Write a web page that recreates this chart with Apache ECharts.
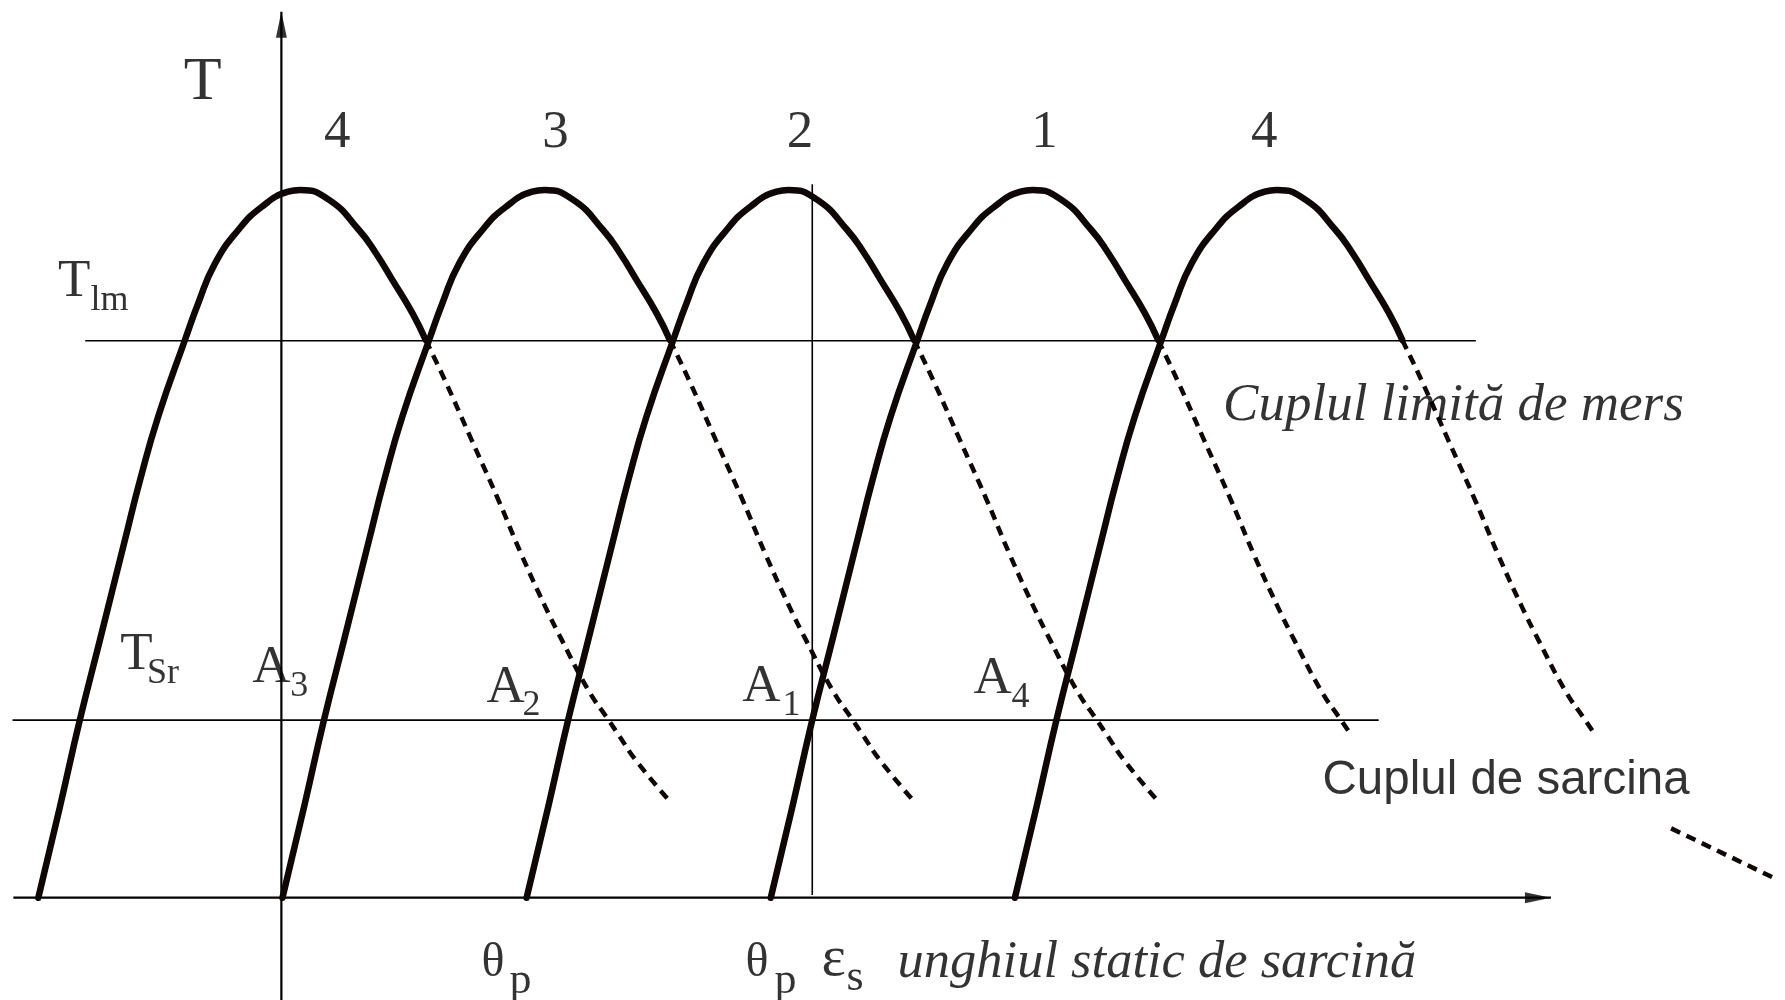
<!DOCTYPE html>
<html>
<head>
<meta charset="utf-8">
<title>Cuplul static - motor pas cu pas</title>
<script src="https://cdn.jsdelivr.net/npm/echarts@6/dist/echarts.min.js"></script>
<style>
  html, body { margin: 0; padding: 0; background: #fff; }
  #chart { width: 1785px; height: 1000px; }
</style>
</head>
<body>
<div id="chart"></div>
<script>
// phases in the order they are excited, and where each curve leaves the axis (el. deg)
const phaseNames = ['4', '3', '2', '1', '4']
const phaseStart = [-90, 0, 90, 180, 270]
const phaseLabelX = [20.8, 101.2, 191.4, 281.5, 362.5]

const torqueSolid = [
  [0.4, 0], [8.4, 0.129], [15.7, 0.251], [23.1, 0.364], [32.3, 0.505], [37.9, 0.59],
  [44.6, 0.68], [54.45, 0.788], [59.35, 0.84], [65.5, 0.896], [74.1, 0.9435],
  [82.7, 0.976], [92.5, 0.9976], [97.0, 1.0], [107.6, 0.986], [118.6, 0.9435],
  [124.8, 0.911], [130.9, 0.873], [138.3, 0.826], [143.2, 0.788]
]
const torqueDashed = [
  [143.2, 0.788], [150.3, 0.731], [160.1, 0.647], [170.0, 0.562], [178.6, 0.484],
  [187.3, 0.411], [193.4, 0.364], [203.2, 0.293], [210.6, 0.251], [214.5, 0.229],
  [220.5, 0.195], [232.8, 0.138]
]
const dashedEnd = [232.8, 232.8, 232.8, 214.5, 214.5]
// last curve comes back out from under the "Cuplul de sarcina" text
const lastTail = [[242.3, 0.098], [284.5, 0.02]]

// horizontal / vertical guide lines
const limitLine = [[-72.3, 0.787], [440.3, 0.787]]   // T_lm
const loadLine = [[-99.1, 0.251], [404.5, 0.251]]    // T_Sr
const stepLine = [[195.7, 0.004], [195.7, 1.008]]
const xAxisLine = [[-98.8, 0], [468, 0]]
const yAxisLine = [[0, -0.15], [0, 1.252]]

const serif = 'Liberation Serif'
const textStyles = {
  big: { fontSize: 62, align: 'center' },
  num: { fontSize: 53, align: 'center' },
  main: { fontSize: 53 },
  sub: { fontSize: 36 },
  greek: { fontSize: 48 },
  eps: { fontSize: 58 },
  gsub: { fontSize: 44 },
  ital: { fontSize: 52.5, fontStyle: 'italic' },
  ital2: { fontSize: 53, fontStyle: 'italic' },
  sans: { fontSize: 47.5, fontFamily: 'Liberation Sans' }
}

// [x, y, text, style]
const notes = [
  [-28.8, 1.1504, 'T', 'big'],
  [-82.2, 0.8693, 'T', 'main'], [-70.15, 0.8429, 'lm', 'sub'],
  [-59.2, 0.3422, 'T', 'main'], [-49.32, 0.3162, 'Sr', 'sub'],
  [-10.54, 0.3241, 'A', 'main'], [3.43, 0.2979, '3', 'sub'],
  [75.83, 0.2958, 'A', 'main'], [89.1, 0.2707, '2', 'sub'],
  [170.12, 0.2972, 'A', 'main'], [184.94, 0.2711, '1', 'sub'],
  [255.35, 0.3077, 'A', 'main'], [269.35, 0.2824, '4', 'sub'],
  [73.98, -0.0937, 'θ', 'greek'], [84.3, -0.1191, 'p', 'gsub'],
  [171.3, -0.093, 'θ', 'greek'], [181.99, -0.1191, 'p', 'gsub'],
  [199.32, -0.0886, 'ε', 'eps'], [208.53, -0.1149, 's', 'gsub'],
  [227.33, -0.093, 'unghiul static de sarcină', 'ital'],
  [347.32, 0.6945, 'Cuplul limită de mers', 'ital2'],
  [383.99, 0.1643, 'Cuplul de sarcina', 'sans']
]
phaseNames.forEach((n, i) => notes.push([phaseLabelX[i], 1.0799, n, 'num']))

const ink = '#0f0606'

function shift(points, start) {
  return points.map(p => [start + p[0], p[1]])
}

function guide(data, width) {
  return {
    type: 'line',
    data: data,
    symbol: 'none',
    clip: false,
    silent: true,
    lineStyle: { color: '#000', width: width },
    z: 1
  }
}

const series = [
  guide(limitLine, 1.6),
  guide(loadLine, 1.6),
  guide(stepLine, 1.6),
  guide(xAxisLine, 2.2),
  guide(yAxisLine, 2.2),
  {
    type: 'scatter',
    silent: true,
    symbol: 'triangle',
    symbolSize: [11, 26],
    itemStyle: { color: '#000' },
    data: [
      { value: xAxisLine[1], symbolRotate: -90, symbolOffset: [-13, 0] },
      { value: yAxisLine[1], symbolRotate: 0, symbolOffset: [0, 13] }
    ],
    z: 2
  }
]

phaseStart.forEach((start, i) => {
  series.push({
    type: 'line',
    name: 'faza ' + phaseNames[i],
    data: shift(torqueSolid, start),
    symbol: 'none',
    smooth: 0.5,
    clip: false,
    silent: true,
    lineStyle: { color: ink, width: 6.5, cap: 'round', join: 'round' },
    z: 4
  })
  series.push({
    type: 'line',
    data: shift(torqueDashed.filter(p => p[0] <= dashedEnd[i]), start),
    symbol: 'none',
    smooth: 0.5,
    clip: false,
    silent: true,
    lineStyle: { color: ink, width: 4.5, type: [10, 7] },
    z: 3
  })
})
series.push({
  type: 'line',
  data: shift(lastTail, phaseStart[4]),
  symbol: 'none',
  clip: false,
  silent: true,
  lineStyle: { color: ink, width: 4.5, type: [10, 7] },
  z: 3
})

series.push({
  type: 'scatter',
  silent: true,
  symbolSize: 1,
  itemStyle: { color: 'transparent' },
  z: 10,
  data: notes.map(n => {
    const st = textStyles[n[3]]
    return {
      name: n[2],
      value: [n[0], n[1]],
      label: {
        show: true,
        position: [0, 0],
        formatter: '{b}',
        color: '#000',
        fontFamily: st.fontFamily || serif,
        fontStyle: st.fontStyle || 'normal',
        fontSize: st.fontSize,
        align: st.align || 'left',
        verticalAlign: 'middle'
      }
    }
  })
})

const chart = echarts.init(document.getElementById('chart'))
chart.setOption({
  animation: false,
  backgroundColor: '#fff',
  grid: { left: 10.1, right: 11.6, top: 6, bottom: 3.2 },
  xAxis: { type: 'value', min: -100, max: 550, show: false },
  yAxis: { type: 'value', min: -0.14, max: 1.26, show: false },
  series: series
})
</script>
</body>
</html>
